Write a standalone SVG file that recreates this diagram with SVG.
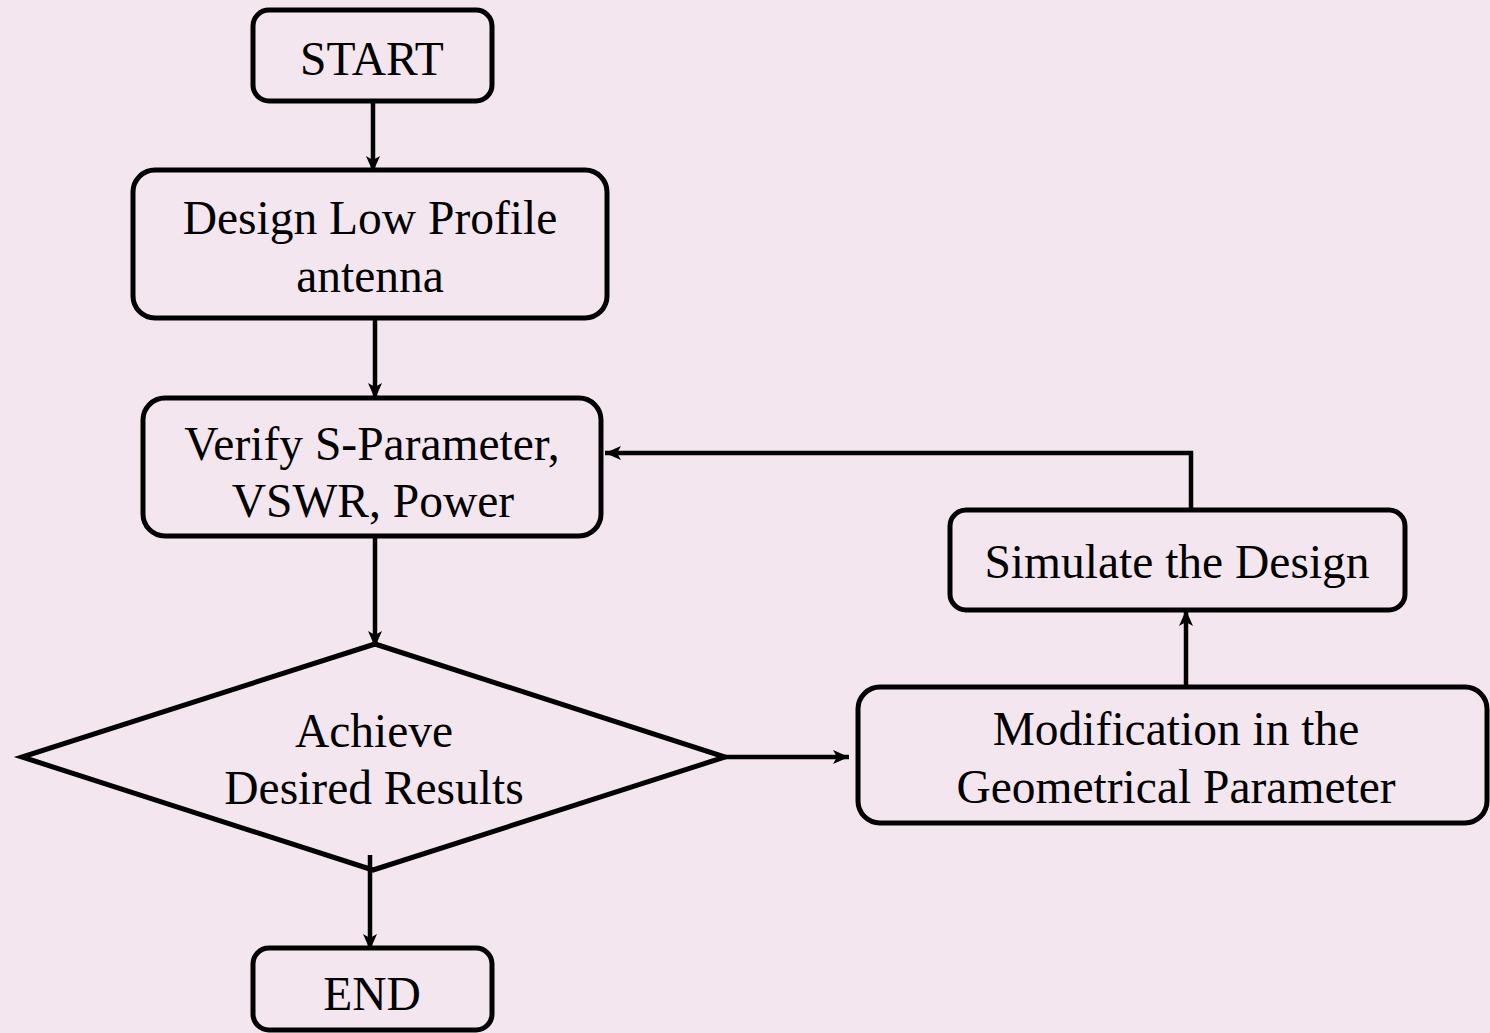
<svg xmlns="http://www.w3.org/2000/svg" width="1490" height="1033" viewBox="0 0 1490 1033">
<defs>
<style>
.box{fill:none;stroke:#000;stroke-width:5}
.t{font-family:"Liberation Serif","Times New Roman",serif;font-size:47.5px;fill:#000;text-anchor:middle}
.c{fill:none;stroke:#000;stroke-width:4.5}
</style>
<marker id="ah" markerUnits="userSpaceOnUse" markerWidth="18" markerHeight="16" refX="16" refY="8" orient="auto">
<path d="M0,1 L16,8 L0,15 L4,8 z" fill="#000"/>
</marker>
</defs>
<rect width="1490" height="1033" fill="#F4E6EE"/>
<g id="connectors">
<line class="c" x1="373" y1="101" x2="373" y2="172" marker-end="url(#ah)"/>
<line class="c" x1="375" y1="318" x2="375" y2="399" marker-end="url(#ah)"/>
<line class="c" x1="375" y1="536" x2="375" y2="647" marker-end="url(#ah)"/>
<line class="c" x1="725" y1="757" x2="849" y2="757" marker-end="url(#ah)"/>
<line class="c" x1="1186" y1="687" x2="1186" y2="610" marker-end="url(#ah)"/>
<polyline class="c" points="1191,510 1191,453 605,453" marker-end="url(#ah)"/>
<line class="c" x1="370" y1="855" x2="370" y2="950" marker-end="url(#ah)"/>
</g>
<g id="start">
<rect class="box" x="253" y="10" width="239" height="91" rx="16"/>
<text class="t" x="372" y="75">START</text>
</g>
<g id="design">
<rect class="box" x="133" y="170" width="474" height="148" rx="22"/>
<text class="t" x="370" y="234">Design Low Profile</text>
<text class="t" x="370" y="292">antenna</text>
</g>
<g id="verify">
<rect class="box" x="143" y="398" width="458" height="138" rx="22"/>
<text class="t" x="372" y="460">Verify S-Parameter,</text>
<text class="t" x="373" y="517">VSWR, Power</text>
</g>
<g id="decision">
<polygon class="box" points="375,644 725,757 373,870 22,757"/>
<text class="t" x="374" y="747">Achieve</text>
<text class="t" x="374" y="804">Desired Results</text>
</g>
<g id="modify">
<rect class="box" x="858" y="687" width="629" height="136" rx="22"/>
<text class="t" x="1176" y="745">Modification in the</text>
<text class="t" x="1176" y="803">Geometrical Parameter</text>
</g>
<g id="simulate">
<rect class="box" x="950" y="510" width="455" height="100" rx="16"/>
<text class="t" x="1177" y="578">Simulate the Design</text>
</g>
<g id="end">
<rect class="box" x="253" y="948" width="239" height="82" rx="16"/>
<text class="t" x="372" y="1010">END</text>
</g>
</svg>
